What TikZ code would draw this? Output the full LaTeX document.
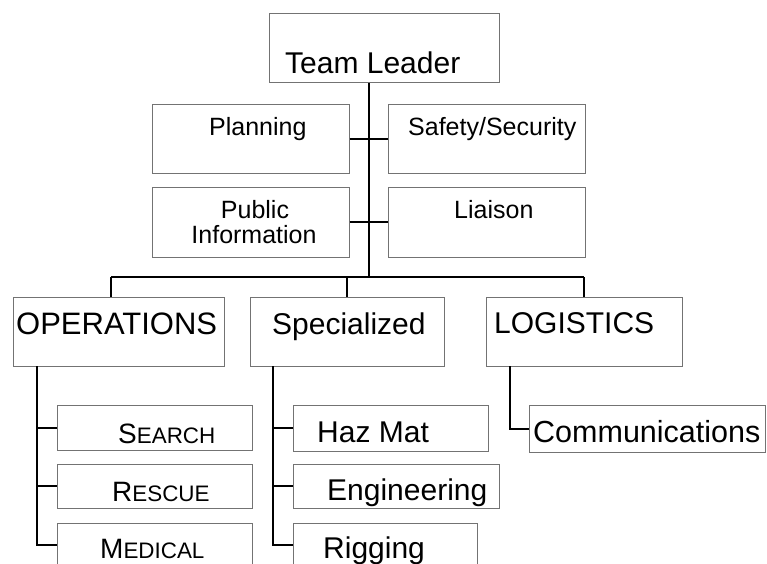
\documentclass[tikz,border=0pt]{standalone}
\usepackage{fontspec}
\setmainfont{Liberation Sans}
\newcommand\myfs[1]{\fontsize{#1}{#1}\selectfont}
\newcommand\fakesc[2]{#1{\myfs{22.4}#2}}
\begin{document}
\begin{tikzpicture}[x=1pt,y=-1pt,
  box/.style={draw=black!55, line width=0.6pt, rectangle, inner sep=0pt, anchor=north west},
  conn/.style={draw=black, line width=1.8pt},
  txt/.style={inner sep=0pt, anchor=base west, text=black},
  ctxt/.style={inner sep=0pt, anchor=base, text=black}]
\useasboundingbox (0,0) rectangle (767,563);
\clip (0,0) rectangle (767,563);
% top
\node[box, minimum width=230pt, minimum height=69pt] (tl) at (269,13) {};
\node[txt, font=\myfs{30}] (tlT) at (285,73) {Team Leader};
% staff
\node[box, minimum width=197pt, minimum height=69pt] (plan) at (152,104) {};
\node[txt, font=\myfs{25}] (planT) at (209,135) {Planning};
\node[box, minimum width=197pt, minimum height=69pt] (safe) at (388,104) {};
\node[txt, font=\myfs{25}] (safeT) at (408,135) {Safety/Security};
\node[box, minimum width=197pt, minimum height=70pt] (pub) at (152,187) {};
\node[ctxt, font=\myfs{25}] (pubT1) at (255,218) {Public};
\node[ctxt, font=\myfs{25}] (pubT2) at (254,243) {Information};
\node[box, minimum width=197pt, minimum height=70pt] (liai) at (388,187) {};
\node[txt, font=\myfs{25}] (liaiT) at (454,218) {Liaison};
% sections
\node[box, minimum width=211pt, minimum height=69pt] (ops) at (13,297) {};
\node[txt, font=\myfs{31}] (opsT) at (16,334) {OPERATIONS};
\node[box, minimum width=194pt, minimum height=69pt] (spec) at (250,297) {};
\node[txt, font=\myfs{30}] (specT) at (272,334) {Specialized};
\node[box, minimum width=196pt, minimum height=69pt] (logi) at (486,297) {};
\node[txt, font=\myfs{30}] (logiT) at (494,333) {LOGISTICS};
% operations units
\node[box, minimum width=195pt, minimum height=45pt] (srch) at (57,405) {};
\node[txt, font=\myfs{28}] (srchT) at (118,443) {\fakesc{S}{EARCH}};
\node[box, minimum width=195pt, minimum height=44pt] (resc) at (57,464) {};
\node[txt, font=\myfs{28}] (rescT) at (112,501) {\fakesc{R}{ESCUE}};
\node[box, minimum width=195pt, minimum height=44pt] (medi) at (57,523) {};
\node[txt, font=\myfs{28}] (mediT) at (100,558) {\fakesc{M}{EDICAL}};
% specialized units
\node[box, minimum width=195pt, minimum height=46pt] (haz) at (293,405) {};
\node[txt, font=\myfs{30}] (hazT) at (317,442) {Haz Mat};
\node[box, minimum width=206pt, minimum height=44pt] (engi) at (293,464) {};
\node[txt, font=\myfs{30}] (engiT) at (327,500) {Engineering};
\node[box, minimum width=184pt, minimum height=44pt] (rigg) at (293,523) {};
\node[txt, font=\myfs{30}] (riggT) at (323,558) {Rigging};
% logistics unit
\node[box, minimum width=236pt, minimum height=47pt] (comm) at (529,405) {};
\node[txt, font=\myfs{30.5}] (commT) at (533,442) {Communications};
% connectors
\coordinate (busC) at (369,277);
\coordinate (busL) at (111,277);
\coordinate (busM) at (347,277);
\coordinate (busR) at (584,277);
\draw[conn] (tl.south -| busC) -- (busC);
\draw[conn] (plan.east) -- (safe.west);
\draw[conn] (pub.east) -- (liai.west);
\draw[conn] (busL) -- (busR);
\draw[conn] (busL) -- (busL |- ops.north);
\draw[conn] (busM) -- (busM |- spec.north);
\draw[conn] (busR) -- (busR |- logi.north);
\coordinate (opsV) at (37,366);
\draw[conn] (opsV) |- (medi.west);
\draw[conn] (opsV |- srch.west) -- (srch.west);
\draw[conn] (opsV |- resc.west) -- (resc.west);
\coordinate (specV) at (273,366);
\draw[conn] (specV) |- (rigg.west);
\draw[conn] (specV |- haz.west) -- (haz.west);
\draw[conn] (specV |- engi.west) -- (engi.west);
\coordinate (logV) at (510,366);
\draw[conn] (logV) |- (comm.west);
\end{tikzpicture}
\end{document}
